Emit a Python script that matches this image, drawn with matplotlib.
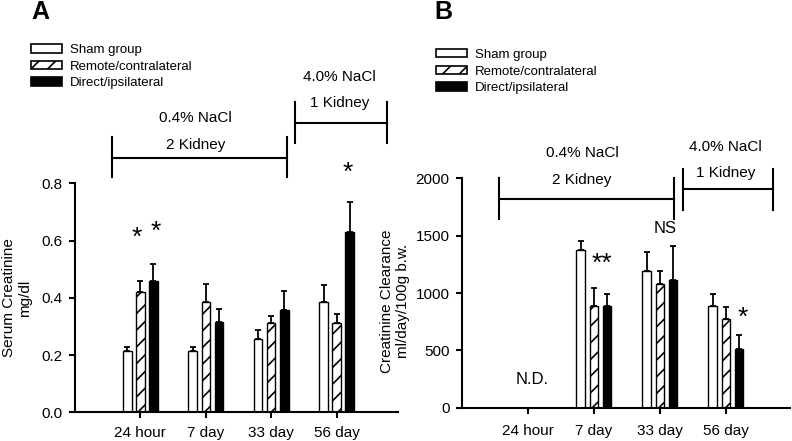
import matplotlib.pyplot as plt
import numpy as np
from matplotlib.patches import Patch

plt.rcParams.update({
    'font.family': ['Liberation Sans', 'DejaVu Sans'],
    'font.size': 11,
    'hatch.linewidth': 1.2,
    'axes.linewidth': 1.5,
})

groups = ['24 hour', '7 day', '33 day', '56 day']
series_names = ['Sham group', 'Remote/contralateral', 'Direct/ipsilateral']

# panel A: serum creatinine (mg/dl)
scr_sham = [0.215, 0.215, 0.258, 0.386]
scr_sham_err = [0.014, 0.014, 0.030, 0.060]
scr_remote = [0.419, 0.384, 0.311, 0.311]
scr_remote_err = [0.041, 0.063, 0.025, 0.032]
scr_direct = [0.459, 0.317, 0.358, 0.631]
scr_direct_err = [0.059, 0.044, 0.066, 0.103]

# panel B: creatinine clearance (24 hour not determined)
ccl_sham = [np.nan, 1376, 1195, 887]
ccl_sham_err = [np.nan, 79, 166, 103]
ccl_remote = [np.nan, 890, 1079, 771]
ccl_remote_err = [np.nan, 155, 116, 105]
ccl_direct = [np.nan, 890, 1114, 515]
ccl_direct_err = [np.nan, 100, 297, 122]

styles = [dict(facecolor='white', hatch=None),
          dict(facecolor='white', hatch='//'),
          dict(facecolor='black', hatch=None)]
offsets = [-0.2, 0.0, 0.2]
width = 0.13


def draw_bars(ax, vals, errs, xpad):
    x = np.arange(len(groups))
    for v, e, st, off in zip(vals, errs, styles, offsets):
        v = np.array(v, dtype=float)
        e = np.array(e, dtype=float)
        ax.bar(x + off, v, width, facecolor=st['facecolor'], hatch=st['hatch'],
               edgecolor='black', linewidth=1.0, zorder=2)
        ax.errorbar(x + off, v, yerr=[np.zeros_like(e), e], fmt='none',
                    ecolor='black', elinewidth=1.3, capsize=2.3, capthick=1.3, zorder=1)
    ax.set_xticks(x)
    ax.set_xticklabels(groups, fontsize=11)
    for s in ['top', 'right']:
        ax.spines[s].set_visible(False)
    ax.tick_params(axis='both', direction='out', length=4, width=1.5, labelsize=11)
    ax.tick_params(axis='y', pad=5)
    ax.tick_params(axis='x', pad=xpad)


def bracket(ax, x0, x1, y, ylo, yhi, line1, line2, ty1, ty2, tx):
    kw = dict(color='black', linewidth=1.5, clip_on=False)
    ax.plot([x0, x1], [y, y], **kw)
    ax.plot([x0, x0], [ylo, yhi], **kw)
    ax.plot([x1, x1], [ylo, yhi], **kw)
    ax.text(tx, ty1, line1, ha='center', va='center', fontsize=11, clip_on=False)
    ax.text(tx, ty2, line2, ha='center', va='center', fontsize=11, clip_on=False)


def legend(ax, x, y):
    handles = [Patch(facecolor=st['facecolor'], hatch=st['hatch'], edgecolor='black', linewidth=1.2)
               for st in styles]
    ax.legend(handles, series_names, loc='upper left', bbox_to_anchor=(x, y),
              bbox_transform=ax.figure.transFigure, frameon=False, fontsize=9.5,
              handlelength=2.35, handleheight=0.6, handletextpad=0.6,
              labelspacing=0.35, borderpad=0, borderaxespad=0)


fig = plt.figure(figsize=(7.92, 4.41), dpi=100)
ax1 = fig.add_axes([0.0947, 0.065, 0.408, 0.519])
ax2 = fig.add_axes([0.5833, 0.0755, 0.414, 0.520])

# ---- A
draw_bars(ax1, [scr_sham, scr_remote, scr_direct], [scr_sham_err, scr_remote_err, scr_direct_err], 5.5)
ax1.set_xlim(-1, 3.94)
ax1.set_ylim(0, 0.8)
ax1.set_yticks([0, 0.2, 0.4, 0.6, 0.8])
ax1.set_yticklabels(['0.0', '0.2', '0.4', '0.6', '0.8'])
ax1.set_ylabel('Serum Creatinine\nmg/dl', fontsize=11)
ax1.yaxis.set_label_coords(-0.133, 0.5)
bracket(ax1, -0.43, 2.24, 0.888, 0.822, 0.962, '0.4% NaCl', '2 Kidney', 1.028, 0.934, 0.84)
bracket(ax1, 2.37, 3.77, 1.011, 0.941, 1.084, '4.0% NaCl', '1 Kidney', 1.171, 1.081, 3.04)
ax1.text(-0.05, 0.61, '*', ha='center', va='center', fontsize=19)
ax1.text(0.23, 0.63, '*', ha='center', va='center', fontsize=19)
ax1.text(3.165, 0.836, '*', ha='center', va='center', fontsize=19, clip_on=False)
legend(ax1, 0.039, 0.9)
fig.text(0.040, 1.0, 'A', fontsize=18, fontweight='bold', va='top')

# ---- B
draw_bars(ax2, [ccl_sham, ccl_remote, ccl_direct], [ccl_sham_err, ccl_remote_err, ccl_direct_err], 8)
ax2.set_xlim(-1, 3.97)
ax2.set_ylim(0, 2000)
ax2.set_yticks([0, 500, 1000, 1500, 2000])
ax2.set_ylabel('Creatinine Clearance\nml/day/100g b.w.', fontsize=11)
ax2.yaxis.set_label_coords(-0.159, 0.465)
bracket(ax2, -0.44, 2.21, 1821, 1647, 2004, '0.4% NaCl', '2 Kidney', 2222, 1985, 0.82)
bracket(ax2, 2.35, 3.71, 1908, 1725, 2083, '4.0% NaCl', '1 Kidney', 2275, 2048, 2.99)
ax2.text(0.06, 250, 'N.D.', ha='center', va='center', fontsize=12)
ax2.text(2.08, 1566, 'NS', ha='center', va='center', fontsize=12)
ax2.text(1.12, 1255, '**', ha='center', va='center', fontsize=19)
ax2.text(3.25, 780, '*', ha='center', va='center', fontsize=19)
legend(ax2, 0.551, 0.889)
fig.text(0.549, 1.0, 'B', fontsize=18, fontweight='bold', va='top')

plt.savefig('out.png', dpi=100)
